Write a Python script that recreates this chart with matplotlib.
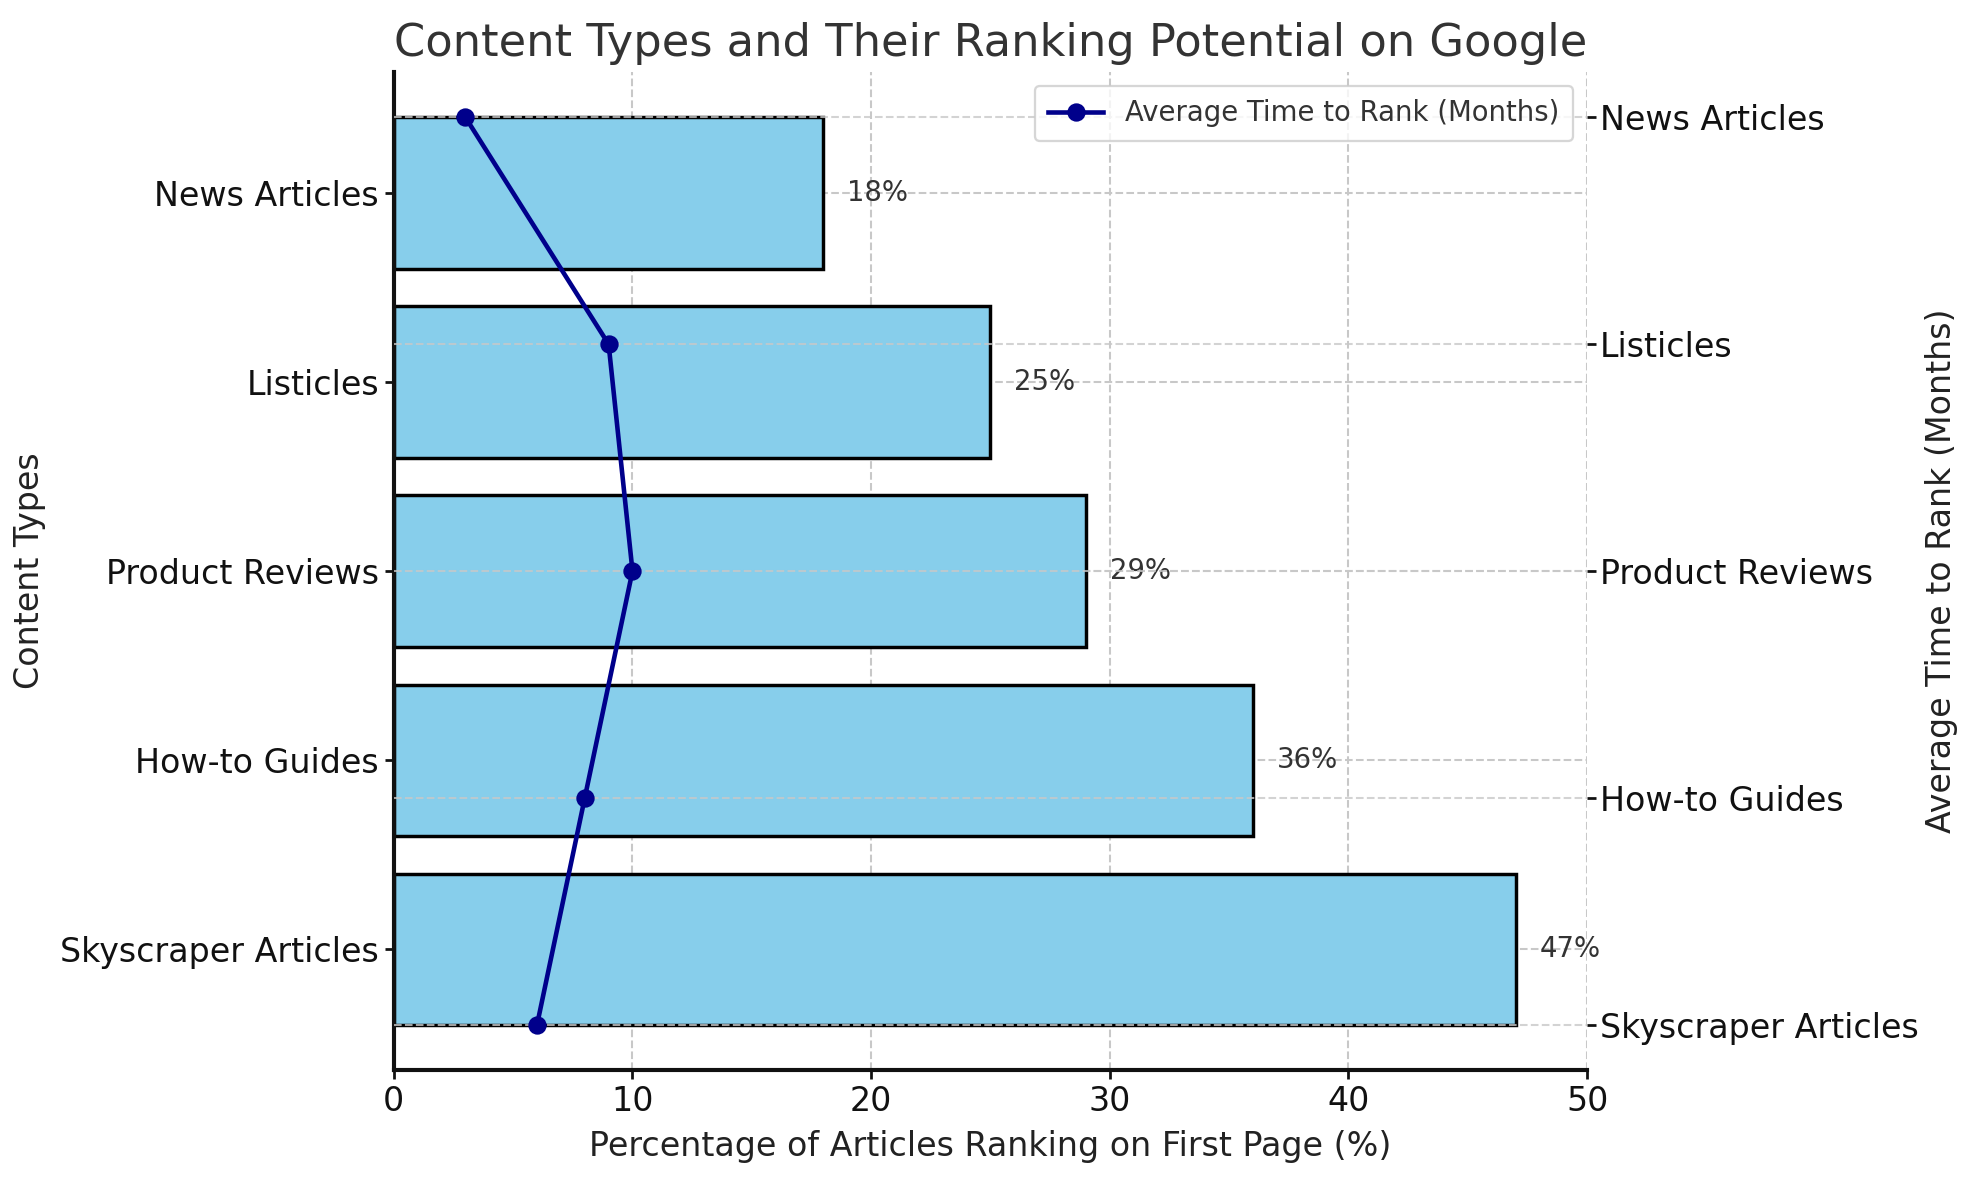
import matplotlib
matplotlib.use("Agg")
import matplotlib.pyplot as plt

categories = ["Skyscraper Articles", "How-to Guides", "Product Reviews", "Listicles", "News Articles"]
pct_first_page = [47, 36, 29, 25, 18]
avg_months = [6, 8, 10, 9, 3]

DPI = 165
fig = plt.figure(figsize=(1979 / DPI, 1180 / DPI), dpi=DPI)
ax = fig.add_axes([0.199, 0.093, 0.603, 0.846])

ax.barh(categories, pct_first_page, height=0.8, color="#87CEEB", edgecolor="black", linewidth=1.5, zorder=2)
for i, v in enumerate(pct_first_page):
    ax.text(v + 1, i, f"{v}%", va="center", ha="left", fontsize=12, color="#333333")

ax.set_xlim(0, 50)
ax.set_xlabel("Percentage of Articles Ranking on First Page (%)", fontsize=14.5, color="#222222", labelpad=5)
ax.set_ylabel("Content Types", fontsize=14.5, color="#222222", labelpad=6)
ax.set_title("Content Types and Their Ranking Potential on Google", fontsize=19.5, color="#333333", pad=7)
ax.tick_params(axis="both", labelsize=14.5, width=1.2, length=4, pad=2.5, colors="#111111")
ax.grid(True, linestyle="--", color="#c8c8c8", linewidth=0.9, zorder=0)
ax.set_axisbelow(True)
for s in ["top", "right"]:
    ax.spines[s].set_visible(False)
for s in ["left", "bottom"]:
    ax.spines[s].set_linewidth(1.8)
    ax.spines[s].set_color("#111111")

ax2 = ax.twinx()
ax2.plot(avg_months, categories, marker="o", color="#00008B", linewidth=2, markersize=7,
         label="Average Time to Rank (Months)", zorder=3)
ax2.set_ylabel("Average Time to Rank (Months)", fontsize=14.5, color="#222222", labelpad=3)
ax2.tick_params(axis="y", labelsize=14.5, width=1.2, length=4, pad=1.5, colors="#111111")
ax2.grid(True, linestyle="--", color="#c8c8c8", linewidth=0.9, alpha=0.8)
for s in ax2.spines.values():
    s.set_visible(False)
leg = ax2.legend(loc="upper right", fontsize=12, frameon=True, borderpad=0.5)
for t in leg.get_texts():
    t.set_color("#333333")

fig.savefig("out.png", dpi=DPI)
